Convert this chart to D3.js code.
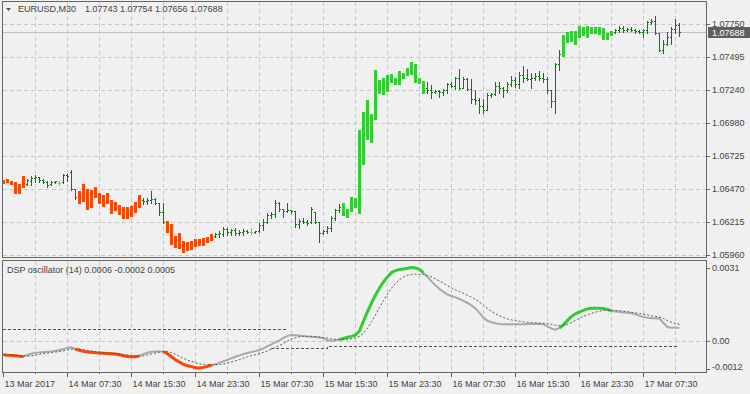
<!DOCTYPE html>
<html>
<head>
<meta charset="utf-8">
<script src="https://cdn.jsdelivr.net/npm/d3@7"></script>
<style>
  body { margin: 0; background: #f0f0f0; }
  svg { display: block; }
</style>
</head>
<body>
<svg width="750" height="394"></svg>
<script>
// EURUSD M30 bars, first bar = 13 Mar 2017 23:30
var open = [
  1.06541,1.06549,1.06533,1.06528,1.06510,1.06572,1.06510,1.06533,1.06557,1.06564,
  1.06541,1.06526,1.06510,1.06526,1.06518,1.06526,1.06580,1.06603,1.06471,1.06456,
  1.06510,1.06469,1.06464,1.06485,1.06438,1.06427,1.06443,1.06386,1.06373,1.06348,
  1.06334,1.06330,1.06340,1.06371,1.06425,1.06386,1.06378,1.06386,1.06394,1.06363,
  1.06293,1.06226,1.06200,1.06107,1.06128,1.06071,1.06063,1.06071,1.06082,1.06086,
  1.06089,1.06102,1.06123,1.06107,1.06123,1.06123,1.06162,1.06138,1.06154,1.06131,
  1.06138,1.06146,1.06138,1.06138,1.06146,1.06193,1.06216,1.06270,1.06278,1.06363,
  1.06317,1.06301,1.06309,1.06301,1.06200,1.06224,1.06216,1.06216,1.06293,1.06216,
  1.06131,1.06146,1.06169,1.06247,1.06309,1.06272,1.06257,1.06303,1.06330,1.06288,
  1.06665,1.06861,1.06836,1.07014,1.07218,1.07208,1.07233,1.07301,1.07285,1.07285,
  1.07332,1.07353,1.07363,1.07301,1.07295,1.07218,1.07254,1.07239,1.07223,1.07231,
  1.07223,1.07239,1.07285,1.07270,1.07332,1.07254,1.07324,1.07246,1.07169,1.07161,
  1.07115,1.07084,1.07200,1.07208,1.07270,1.07254,1.07239,1.07285,1.07316,1.07285,
  1.07355,1.07332,1.07324,1.07332,1.07347,1.07332,1.07324,1.07239,1.07153,1.07440,
  1.07502,1.07613,1.07621,1.07595,1.07652,1.07667,1.07652,1.07678,1.07683,1.07673,
  1.07636,1.07636,1.07667,1.07688,1.07704,1.07719,1.07704,1.07711,1.07704,1.07696,
  1.07688,1.07704,1.07766,1.07773,1.07680,1.07549,1.07595,1.07649,1.07711,1.07743
];
var high = [
  1.06541,1.06549,1.06533,1.06528,1.06510,1.06572,1.06547,1.06572,1.06580,1.06567,
  1.06549,1.06533,1.06536,1.06536,1.06536,1.06588,1.06588,1.06619,1.06471,1.06456,
  1.06510,1.06469,1.06464,1.06485,1.06438,1.06427,1.06443,1.06386,1.06373,1.06348,
  1.06334,1.06330,1.06340,1.06371,1.06425,1.06404,1.06399,1.06458,1.06404,1.06365,
  1.06361,1.06226,1.06200,1.06107,1.06128,1.06071,1.06063,1.06071,1.06082,1.06086,
  1.06089,1.06102,1.06123,1.06128,1.06144,1.06175,1.06167,1.06164,1.06169,1.06154,
  1.06159,1.06154,1.06172,1.06146,1.06206,1.06237,1.06288,1.06291,1.06386,1.06373,
  1.06317,1.06361,1.06309,1.06303,1.06239,1.06244,1.06231,1.06330,1.06293,1.06218,
  1.06154,1.06185,1.06265,1.06319,1.06353,1.06361,1.06317,1.06412,1.06402,1.06929,
  1.07068,1.07161,1.07053,1.07394,1.07316,1.07332,1.07357,1.07363,1.07332,1.07384,
  1.07373,1.07409,1.07456,1.07440,1.07332,1.07306,1.07301,1.07275,1.07239,1.07239,
  1.07244,1.07295,1.07301,1.07342,1.07399,1.07342,1.07329,1.07321,1.07239,1.07174,
  1.07169,1.07215,1.07213,1.07303,1.07303,1.07264,1.07303,1.07347,1.07342,1.07380,
  1.07425,1.07399,1.07368,1.07373,1.07388,1.07373,1.07342,1.07239,1.07446,1.07549,
  1.07665,1.07690,1.07696,1.07696,1.07735,1.07729,1.07735,1.07729,1.07724,1.07729,
  1.07719,1.07683,1.07696,1.07714,1.07735,1.07735,1.07719,1.07724,1.07709,1.07704,
  1.07714,1.07776,1.07786,1.07812,1.07683,1.07626,1.07690,1.07724,1.07786,1.07754
];
var low = [
  1.06516,1.06526,1.06510,1.06438,1.06443,1.06489,1.06505,1.06505,1.06528,1.06523,
  1.06518,1.06489,1.06505,1.06516,1.06500,1.06520,1.06536,1.06464,1.06394,1.06361,
  1.06381,1.06319,1.06334,1.06412,1.06365,1.06342,1.06361,1.06288,1.06309,1.06275,
  1.06249,1.06249,1.06262,1.06296,1.06330,1.06353,1.06353,1.06361,1.06355,1.06270,
  1.06210,1.06141,1.06043,1.06024,1.06017,1.05986,1.05999,1.06009,1.06030,1.06038,
  1.06038,1.06063,1.06076,1.06097,1.06102,1.06107,1.06115,1.06115,1.06113,1.06115,
  1.06113,1.06128,1.06120,1.06128,1.06141,1.06154,1.06206,1.06244,1.06257,1.06301,
  1.06257,1.06291,1.06288,1.06179,1.06167,1.06206,1.06193,1.06210,1.06210,1.06063,
  1.06123,1.06133,1.06146,1.06231,1.06296,1.06272,1.06257,1.06303,1.06330,1.06288,
  1.06665,1.06861,1.06836,1.07014,1.07218,1.07208,1.07233,1.07301,1.07285,1.07285,
  1.07332,1.07353,1.07363,1.07301,1.07295,1.07218,1.07213,1.07179,1.07213,1.07187,
  1.07202,1.07218,1.07260,1.07244,1.07244,1.07252,1.07239,1.07140,1.07130,1.07063,
  1.07060,1.07084,1.07187,1.07200,1.07218,1.07187,1.07225,1.07270,1.07264,1.07252,
  1.07303,1.07316,1.07252,1.07316,1.07316,1.07303,1.07218,1.07109,1.07063,1.07394,
  1.07502,1.07613,1.07621,1.07595,1.07652,1.07667,1.07652,1.07678,1.07683,1.07673,
  1.07636,1.07636,1.07667,1.07683,1.07688,1.07688,1.07693,1.07693,1.07683,1.07678,
  1.07652,1.07678,1.07750,1.07673,1.07543,1.07523,1.07587,1.07595,1.07683,1.07656
];
var close = [
  1.06516,1.06526,1.06510,1.06438,1.06443,1.06489,1.06541,1.06557,1.06564,1.06541,
  1.06526,1.06502,1.06526,1.06533,1.06518,1.06580,1.06572,1.06471,1.06409,1.06361,
  1.06381,1.06319,1.06334,1.06412,1.06365,1.06342,1.06361,1.06288,1.06309,1.06275,
  1.06249,1.06249,1.06262,1.06296,1.06330,1.06378,1.06386,1.06394,1.06363,1.06293,
  1.06216,1.06141,1.06043,1.06024,1.06017,1.05986,1.05999,1.06009,1.06030,1.06038,
  1.06038,1.06063,1.06076,1.06123,1.06131,1.06162,1.06138,1.06154,1.06131,1.06138,
  1.06146,1.06138,1.06138,1.06146,1.06193,1.06216,1.06270,1.06278,1.06363,1.06317,
  1.06301,1.06309,1.06301,1.06200,1.06224,1.06216,1.06208,1.06317,1.06216,1.06131,
  1.06146,1.06169,1.06247,1.06309,1.06332,1.06361,1.06317,1.06412,1.06402,1.06929,
  1.07068,1.07161,1.07053,1.07394,1.07316,1.07332,1.07357,1.07363,1.07332,1.07384,
  1.07373,1.07409,1.07456,1.07440,1.07332,1.07306,1.07239,1.07223,1.07231,1.07223,
  1.07239,1.07285,1.07270,1.07332,1.07254,1.07324,1.07246,1.07169,1.07161,1.07115,
  1.07084,1.07200,1.07208,1.07270,1.07254,1.07239,1.07285,1.07316,1.07285,1.07355,
  1.07332,1.07324,1.07332,1.07347,1.07332,1.07324,1.07239,1.07153,1.07440,1.07518,
  1.07665,1.07690,1.07696,1.07696,1.07735,1.07729,1.07735,1.07729,1.07724,1.07729,
  1.07719,1.07683,1.07696,1.07704,1.07719,1.07704,1.07711,1.07704,1.07696,1.07688,
  1.07704,1.07766,1.07773,1.07680,1.07549,1.07595,1.07649,1.07711,1.07742,1.07688
];

// DSP oscillator (14): main line and its dashed signal
var dsp = [
  -0.00059,-0.00061,-0.00062,-0.00064,-0.00066,-0.00067,
  -0.00059,-0.00055,-0.00051,-0.00050,-0.00048,-0.00047,-0.00045,-0.00042,-0.00039,-0.00035,-0.00031,-0.00028,-0.00036,
  -0.00040,-0.00045,-0.00048,-0.00049,-0.00051,-0.00052,-0.00053,-0.00054,-0.00055,-0.00056,-0.00059,-0.00064,-0.00067,-0.00068,-0.00068,-0.00064,
  -0.00056,-0.00051,-0.00047,-0.00045,-0.00045,-0.00046,
  -0.00055,-0.00068,-0.00081,-0.00091,-0.00100,-0.00106,-0.00110,-0.00115,-0.00116,-0.00113,-0.00109,-0.00104,
  -0.00100,-0.00093,-0.00087,-0.00081,-0.00074,-0.00068,-0.00062,-0.00056,-0.00052,-0.00048,-0.00044,-0.00039,-0.00032,-0.00023,-0.00015,-0.00006,
  0.00002,0.00013,0.00021,0.00025,0.00024,0.00023,0.00020,0.00018,0.00017,0.00016,0.00014,0.00011,0.00002,0.00000,0.00002,0.00006,
  0.00010,0.00015,0.00019,0.00025,0.00042,0.00085,0.00124,0.00161,0.00195,0.00225,0.00251,0.00272,0.00291,0.00299,0.00304,0.00306,0.00309,0.00312,0.00310,0.00304,0.00289,
  0.00272,0.00253,0.00236,0.00221,0.00208,0.00197,0.00191,0.00185,0.00178,0.00170,
  0.00161,0.00151,0.00138,0.00119,0.00098,0.00085,0.00079,0.00075,0.00072,0.00071,
  0.00071,0.00070,0.00070,0.00070,0.00071,0.00072,0.00072,0.00072,0.00072,0.00071,
  0.00062,0.00052,0.00047,0.00055,
  0.00068,0.00087,0.00104,0.00115,0.00123,0.00130,0.00136,0.00139,0.00139,0.00139,0.00138,0.00134,0.00127,
  0.00125,0.00123,0.00121,0.00119,0.00117,0.00113,0.00106,0.00102,0.00098,0.00096,0.00096,0.00095,0.00076,0.00059,0.00056,0.00056,0.00056
];
var signal = [
  -0.00059,-0.00060,-0.00061,-0.00062,-0.00063,-0.00065,
  -0.00065,-0.00064,-0.00061,-0.00057,-0.00054,-0.00052,-0.00050,-0.00048,-0.00045,-0.00043,-0.00039,-0.00036,-0.00034,
  -0.00035,-0.00037,-0.00041,-0.00044,-0.00046,-0.00048,-0.00050,-0.00051,-0.00053,-0.00054,-0.00056,-0.00058,-0.00060,-0.00063,-0.00065,-0.00066,
  -0.00064,-0.00060,-0.00056,-0.00052,-0.00048,-0.00046,
  -0.00046,-0.00050,-0.00057,-0.00066,-0.00074,-0.00082,-0.00088,-0.00093,-0.00098,-0.00101,-0.00102,-0.00102,
  -0.00102,-0.00101,-0.00098,-0.00095,-0.00090,-0.00085,-0.00080,-0.00074,-0.00068,-0.00063,
  -0.00059,-0.00054,-0.00049,-0.00043,-0.00036,-0.00028,-0.00020,-0.00011,-0.00001,0.00007,
  0.00013,0.00017,0.00019,0.00019,0.00019,0.00017,0.00016,0.00014,0.00012,0.00008,0.00006,0.00005,
  0.00005,0.00007,0.00009,0.00013,0.00019,0.00032,0.00053,0.00081,0.00110,0.00142,0.00172,0.00200,0.00224,0.00244,0.00260,0.00272,0.00279,0.00282,0.00284,0.00283,0.00282,
  0.00278,0.00272,0.00264,0.00255,0.00245,0.00235,0.00226,0.00217,0.00210,0.00202,
  0.00194,0.00186,0.00176,0.00165,0.00151,0.00138,0.00125,0.00115,0.00106,0.00099,
  0.00093,0.00089,0.00086,0.00083,0.00081,0.00079,0.00078,0.00077,0.00076,0.00075,
  0.00073,0.00070,0.00066,0.00065,
  0.00066,0.00070,0.00078,0.00087,0.00096,0.00104,0.00111,0.00117,0.00122,0.00126,0.00129,0.00130,0.00130,
  0.00129,0.00128,0.00126,0.00124,0.00122,0.00119,0.00116,0.00113,0.00110,0.00106,0.00104,0.00101,0.00095,0.00086,0.00079,0.00074,0.00070
];
// colour state of bars and oscillator, as runs of [state, bar count]
var trendRuns = [["down",6],["flat",13],["down",16],["flat",6],["down",12],["flat",32],["up",21],["flat",34],["up",13],["flat",17]];
// dynamic levels as [first bar, last bar, value]
var levelUp = [[0, 71, 0.0005]];
var levelDown = [[67, 81, -0.0003], [81, 169, -0.0002]];

var timeLabels = ["13 Mar 2017","14 Mar 07:30","14 Mar 15:30","14 Mar 23:30","15 Mar 07:30","15 Mar 15:30",
  "15 Mar 23:30","16 Mar 07:30","16 Mar 15:30","16 Mar 23:30","17 Mar 07:30"];
var priceTicks = [1.0775, 1.07495, 1.0724, 1.0698, 1.06725, 1.0647, 1.06215, 1.0596];
var oscTicks = [0.0031, 0, -0.0012];
var oscTickLabels = ["0.0031", "0.00", "-0.0012"];
var lastPrice = 1.07688;
var header = "1.07743 1.07754 1.07656 1.07688";
var oscHeader = "DSP oscillator (14) 0.0006 -0.0002 0.0005";

var trend = [];
trendRuns.forEach(function (r) {
  for (var k = 0; k < r[1]; k++) trend.push(r[0]);
});

var svg = d3.select("svg"),
  n = close.length,
  frameRight = 706.5,
  mainTop = 1.5, mainBottom = 257.5,
  oscTop = 260.5, oscBottom = 372.5,
  font = "'Liberation Sans', Arial, sans-serif",
  textColor = "#444";

var x = d3.scaleLinear().domain([0, n - 1]).range([3, 3 + 4 * (n - 1)]);
var y = d3.scaleLinear().domain([1.0596, 1.0775]).range([255, 24]).interpolate(d3.interpolateRound);
var yo = d3.scaleLinear().domain([-0.0012, 0.0031]).range([369, 268]);

svg.append("rect").attr("width", 750).attr("height", 394).attr("fill", "#f0f0f0");

// clip paths for the two panels
var defs = svg.append("defs");
defs.append("clipPath").attr("id", "clipMain").append("rect")
  .attr("x", 3).attr("y", 2).attr("width", frameRight - 3).attr("height", mainBottom - 2);
defs.append("clipPath").attr("id", "clipOsc").append("rect")
  .attr("x", 3).attr("y", oscTop).attr("width", frameRight - 3).attr("height", oscBottom - oscTop);

// grid
var gridIdx = d3.range(8, n, 8);
var grid = svg.append("g").attr("stroke", "#c8c8c8").attr("stroke-dasharray", "4,3")
  .attr("shape-rendering", "crispEdges");
grid.selectAll(".gv").data(gridIdx).enter().append("line")
  .attr("x1", d => x(d) + 0.5).attr("x2", d => x(d) + 0.5)
  .attr("y1", mainTop).attr("y2", mainBottom);
grid.selectAll(".go").data(gridIdx).enter().append("line")
  .attr("x1", d => x(d) + 0.5).attr("x2", d => x(d) + 0.5)
  .attr("y1", oscTop).attr("y2", oscBottom);
grid.selectAll(".gh").data(priceTicks).enter().append("line")
  .attr("x1", 2.5).attr("x2", frameRight)
  .attr("y1", d => y(d) + 0.5).attr("y2", d => y(d) + 0.5);
grid.append("line")
  .attr("x1", 2.5).attr("x2", frameRight)
  .attr("y1", Math.round(yo(0)) + 0.5).attr("y2", Math.round(yo(0)) + 0.5);

// current price line
svg.append("line")
  .attr("x1", 2.5).attr("x2", frameRight)
  .attr("y1", y(lastPrice) + 0.5).attr("y2", y(lastPrice) + 0.5)
  .attr("stroke", "#c0c0c0").attr("shape-rendering", "crispEdges");

// price bars
var bars = d3.range(n).map(function (i) {
  return { i: i, o: open[i], h: high[i], l: low[i], c: close[i], t: trend[i] };
});
var barColor = { up: "#32cd32", down: "#ff4500" };
var pg = svg.append("g").attr("clip-path", "url(#clipMain)").attr("shape-rendering", "crispEdges");

pg.selectAll(".thick").data(bars.filter(d => d.t !== "flat")).enter().append("rect")
  .attr("x", d => x(d.i) - 1).attr("width", 3)
  .attr("y", d => y(d.h))
  .attr("height", d => Math.max(1, y(d.l) - y(d.h) + 1))
  .attr("fill", d => barColor[d.t]);

var thin = pg.selectAll(".thin").data(bars.filter(d => d.t === "flat")).enter().append("g")
  .attr("fill", d => d.o === d.c ? "#a8a8a8" : "#0a7a0a");
thin.append("rect")
  .attr("x", d => x(d.i)).attr("width", 1)
  .attr("y", d => y(d.h)).attr("height", d => y(d.l) - y(d.h) + 1);
thin.append("rect")
  .attr("x", d => x(d.i) - 1).attr("width", 1)
  .attr("y", d => y(d.o)).attr("height", 1);
thin.append("rect")
  .attr("x", d => x(d.i) + 1).attr("width", 1)
  .attr("y", d => y(d.c)).attr("height", 1);

// oscillator
var og = svg.append("g").attr("clip-path", "url(#clipOsc)").attr("fill", "none");
var pts = d3.range(n).map(i => ({ i: i, v: dsp[i], s: signal[i] }));
var line = d3.line().x(d => x(d.i) + 0.5).y(d => yo(d.v));
var sigLine = d3.line().x(d => x(d.i) + 0.5).y(d => yo(d.s));

function levelPath(steps) {
  var p = [];
  steps.forEach(function (s) {
    p.push([x(s[0]), Math.round(yo(s[2])) + 0.5], [x(s[1]), Math.round(yo(s[2])) + 0.5]);
  });
  return d3.line()(p);
}
og.append("path").attr("d", levelPath(levelUp))
  .attr("stroke", "#555").attr("stroke-dasharray", "3,2").attr("shape-rendering", "crispEdges");
og.append("path").attr("d", levelPath(levelDown))
  .attr("stroke", "#555").attr("stroke-dasharray", "3,2").attr("shape-rendering", "crispEdges");

og.append("path").attr("d", line(pts))
  .attr("stroke", "#a9a9a9").attr("stroke-width", 2);

var start = 0;
trendRuns.forEach(function (r) {
  var end = start + r[1] - 1;
  if (r[0] !== "flat") {
    og.append("path").attr("d", line(pts.slice(Math.max(0, start - 1), end + 1)))
      .attr("stroke", barColor[r[0]]).attr("stroke-width", 3);
  }
  start = end + 1;
});

og.append("path").attr("d", sigLine(pts))
  .attr("stroke", "#555").attr("stroke-width", 1).attr("stroke-dasharray", "2,2");

// frames
var frames = svg.append("g").attr("fill", "none").attr("stroke", "#666").attr("shape-rendering", "crispEdges");
frames.append("rect").attr("x", 2.5).attr("y", mainTop).attr("width", frameRight - 2.5).attr("height", mainBottom - mainTop);
frames.append("rect").attr("x", 2.5).attr("y", oscTop).attr("width", frameRight - 2.5).attr("height", oscBottom - oscTop);

// price axis
var pAxis = svg.append("g").attr("transform", "translate(706,0)")
  .call(d3.axisRight(y).tickValues(priceTicks).tickSize(4).tickPadding(2).tickFormat(d3.format(".5f")));
pAxis.select(".domain").remove();
pAxis.selectAll("line").attr("stroke", "#666");
pAxis.selectAll("text").attr("fill", textColor).style("font", "9px " + font);

// current price label
svg.append("rect").attr("x", 708).attr("y", y(lastPrice) - 5).attr("width", 42).attr("height", 11)
  .attr("fill", "#5f5f5f");
svg.append("text").attr("x", 712).attr("y", y(lastPrice) + 4)
  .attr("fill", "#fff").style("font", "9px " + font).text(d3.format(".5f")(lastPrice));

// oscillator axis
var oAxis = svg.append("g").attr("transform", "translate(706,0)")
  .call(d3.axisRight(yo).tickValues(oscTicks).tickSize(4).tickPadding(2)
    .tickFormat((d, k) => oscTickLabels[k]));
oAxis.select(".domain").remove();
oAxis.selectAll("line").attr("stroke", "#666");
oAxis.selectAll("text").attr("fill", textColor).style("font", "9px " + font)
  .attr("dy", (d, k) => k === oscTicks.length - 1 ? "0" : "0.32em");

// time axis
var major = timeLabels.map((d, k) => k * 16);
var tAxis = svg.append("g").attr("transform", "translate(0,372)")
  .call(d3.axisBottom(x).tickValues(major).tickSize(5).tickPadding(4)
    .tickFormat((d, k) => timeLabels[k]));
tAxis.select(".domain").remove();
tAxis.selectAll("line").attr("stroke", "#666");
tAxis.selectAll("text").attr("fill", textColor).style("font", "9px " + font)
  .attr("text-anchor", "start").attr("x", 1);
var mAxis = svg.append("g").attr("transform", "translate(0,372)")
  .call(d3.axisBottom(x).tickValues(d3.range(8, n, 16)).tickSize(2).tickFormat(""));
mAxis.select(".domain").remove();
mAxis.selectAll("line").attr("stroke", "#666");

// titles
svg.append("path").attr("d", "M6,8 L11,8 L8.5,11 Z").attr("fill", "#555");
var title = svg.append("text").attr("y", 12).attr("fill", textColor).style("font", "9px " + font);
title.append("tspan").attr("x", 18).text("EURUSD,M30");
title.append("tspan").attr("x", 85).text(header);
svg.append("text").attr("x", 7).attr("y", 273).attr("fill", textColor)
  .style("font", "9px " + font).text(oscHeader);
</script>
</body>
</html>
